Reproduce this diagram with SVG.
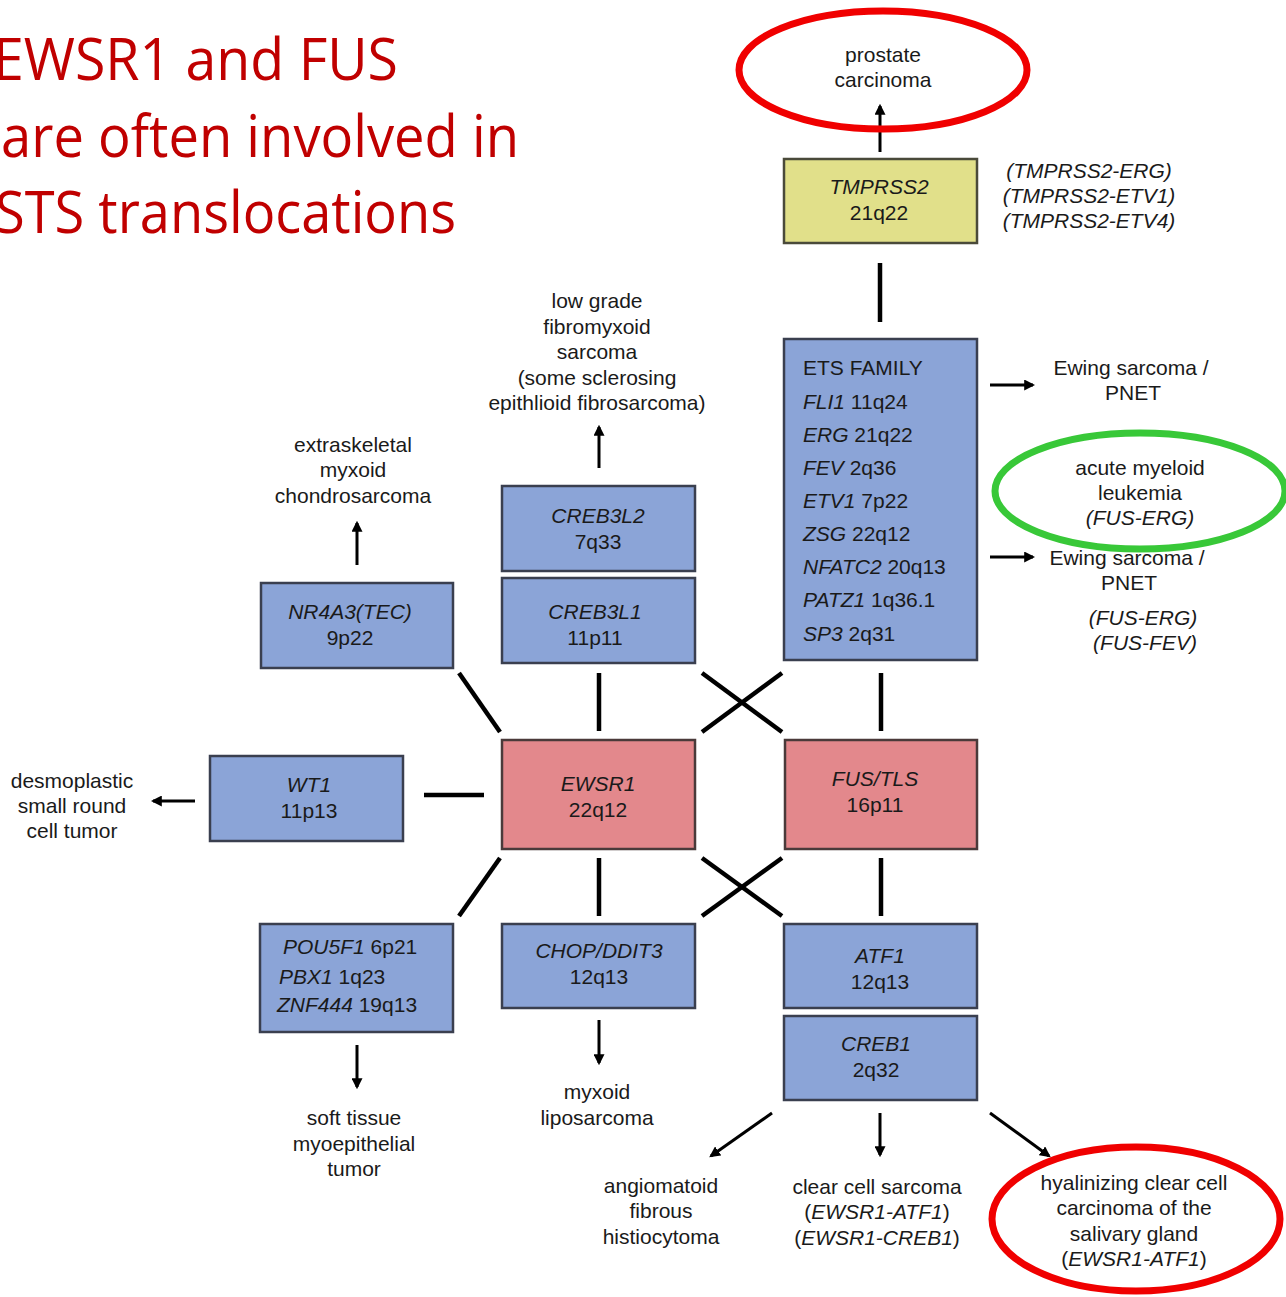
<svg xmlns="http://www.w3.org/2000/svg" width="1286" height="1297" viewBox="0 0 1286 1297">
<style>
.t{font-family:"Liberation Sans",Arial,sans-serif;font-size:21px;fill:#1a1a1a;text-anchor:middle}
.l{text-anchor:start}
.i{font-style:italic}
.title{font-family:"Open Sans","Liberation Sans",sans-serif;font-size:59px;fill:#c00000}
.box{fill:#8ba4d7;stroke:#3a3f4f;stroke-width:2.5}
.pink{fill:#e3888c;stroke:#4a3a3a;stroke-width:2.5}
.yel{fill:#e1e08a;stroke:#4a4a3a;stroke-width:2.5}
.ln{stroke:#000;stroke-width:4.5;fill:none}
.ar{stroke:#000;stroke-width:3;fill:none;marker-end:url(#ah)}
.red{fill:none;stroke:#f00000;stroke-width:7}
.grn{fill:none;stroke:#38c838;stroke-width:7}
</style>
<defs>
<marker id="ah" viewBox="0 0 10 10" refX="8" refY="5" markerWidth="11" markerHeight="11" markerUnits="userSpaceOnUse" orient="auto">
<path d="M0,0 L10,5 L0,10 z" fill="#000"/>
</marker>
</defs>
<rect width="1286" height="1297" fill="#fff"/>

<g id="title">
<text class="title" x="-7" y="80" textLength="405" lengthAdjust="spacingAndGlyphs">EWSR1 and FUS</text>
<text class="title" x="1" y="157" textLength="518" lengthAdjust="spacingAndGlyphs">are often involved in</text>
<text class="title" x="-5" y="233" textLength="461" lengthAdjust="spacingAndGlyphs">STS translocations</text>
</g>

<g id="connectors">
<line class="ar" x1="880" y1="152" x2="880" y2="106"/>
<line class="ln" x1="880" y1="263" x2="880" y2="322"/>
<line class="ar" x1="599" y1="468" x2="599" y2="427"/>
<line class="ar" x1="357" y1="565" x2="357" y2="523"/>
<line class="ar" x1="990" y1="385" x2="1033" y2="385"/>
<line class="ar" x1="990" y1="557" x2="1033" y2="557"/>
<line class="ar" x1="195" y1="801" x2="153" y2="801"/>
<line class="ln" x1="424" y1="795" x2="484" y2="795"/>
<line class="ln" x1="459" y1="673" x2="500" y2="732"/>
<line class="ln" x1="599" y1="673" x2="599" y2="731"/>
<line class="ln" x1="702" y1="732" x2="782" y2="673"/>
<line class="ln" x1="702" y1="673" x2="782" y2="732"/>
<line class="ln" x1="881" y1="673" x2="881" y2="731"/>
<line class="ln" x1="500" y1="858" x2="459" y2="916"/>
<line class="ln" x1="599" y1="858" x2="599" y2="916"/>
<line class="ln" x1="702" y1="858" x2="782" y2="916"/>
<line class="ln" x1="702" y1="916" x2="782" y2="858"/>
<line class="ln" x1="881" y1="858" x2="881" y2="916"/>
<line class="ar" x1="357" y1="1045" x2="357" y2="1087"/>
<line class="ar" x1="599" y1="1020" x2="599" y2="1063"/>
<line class="ar" x1="772" y1="1113" x2="711" y2="1156"/>
<line class="ar" x1="880" y1="1113" x2="880" y2="1155"/>
<line class="ar" x1="990" y1="1113" x2="1049" y2="1156"/>
</g>

<g id="tmprss2">
<rect class="yel" x="784" y="159" width="193" height="84"/>
<text class="t i" x="879" y="194">TMPRSS2</text>
<text class="t" x="879" y="220">21q22</text>
</g>
<g id="tmprss2-fusions">
<text class="t i" x="1089" y="178">(TMPRSS2-ERG)</text>
<text class="t i" x="1089" y="203">(TMPRSS2-ETV1)</text>
<text class="t i" x="1089" y="228">(TMPRSS2-ETV4)</text>
</g>
<g id="prostate">
<text class="t" x="883" y="62">prostate</text>
<text class="t" x="883" y="87">carcinoma</text>
<ellipse class="red" cx="883" cy="70" rx="144" ry="59"/>
</g>

<g id="ets">
<rect class="box" x="784" y="339" width="193" height="321"/>
<text class="t l" x="803" y="375">ETS FAMILY</text>
<text class="t l" x="803" y="409"><tspan class="i">FLI1</tspan> 11q24</text>
<text class="t l" x="803" y="442"><tspan class="i">ERG</tspan> 21q22</text>
<text class="t l" x="803" y="475"><tspan class="i">FEV</tspan> 2q36</text>
<text class="t l" x="803" y="508"><tspan class="i">ETV1</tspan> 7p22</text>
<text class="t l" x="803" y="541"><tspan class="i">ZSG</tspan> 22q12</text>
<text class="t l" x="803" y="574"><tspan class="i">NFATC2</tspan> 20q13</text>
<text class="t l" x="803" y="607"><tspan class="i">PATZ1</tspan> 1q36.1</text>
<text class="t l" x="803" y="641"><tspan class="i">SP3</tspan> 2q31</text>
</g>

<g id="ewing1">
<text class="t" x="1131" y="375">Ewing sarcoma /</text>
<text class="t" x="1133" y="400">PNET</text>
</g>
<g id="ewing2">
<text class="t" x="1127" y="565">Ewing sarcoma /</text>
<text class="t" x="1129" y="590">PNET</text>
<text class="t i" x="1143" y="625">(FUS-ERG)</text>
<text class="t i" x="1145" y="650">(FUS-FEV)</text>
</g>
<g id="aml">
<text class="t" x="1140" y="475">acute myeloid</text>
<text class="t" x="1140" y="500">leukemia</text>
<text class="t i" x="1140" y="525">(FUS-ERG)</text>
<ellipse class="grn" cx="1140" cy="491" rx="145" ry="58"/>
</g>

<g id="lgfms">
<text class="t" x="597" y="308">low grade</text>
<text class="t" x="597" y="334">fibromyxoid</text>
<text class="t" x="597" y="359">sarcoma</text>
<text class="t" x="597" y="385">(some sclerosing</text>
<text class="t" x="597" y="410">epithlioid fibrosarcoma)</text>
</g>
<g id="emc">
<text class="t" x="353" y="452">extraskeletal</text>
<text class="t" x="353" y="477">myxoid</text>
<text class="t" x="353" y="503">chondrosarcoma</text>
</g>

<g id="creb3l2">
<rect class="box" x="502" y="486" width="193" height="85"/>
<text class="t i" x="598" y="523">CREB3L2</text>
<text class="t" x="598" y="549">7q33</text>
</g>
<g id="creb3l1">
<rect class="box" x="502" y="578" width="193" height="85"/>
<text class="t i" x="595" y="619">CREB3L1</text>
<text class="t" x="595" y="645">11p11</text>
</g>
<g id="nr4a3">
<rect class="box" x="261" y="583" width="192" height="85"/>
<text class="t i" x="350" y="619">NR4A3(TEC)</text>
<text class="t" x="350" y="645">9p22</text>
</g>

<g id="dsrct">
<text class="t" x="72" y="788">desmoplastic</text>
<text class="t" x="72" y="813">small round</text>
<text class="t" x="72" y="838">cell tumor</text>
</g>
<g id="wt1">
<rect class="box" x="210" y="756" width="193" height="85"/>
<text class="t i" x="309" y="792">WT1</text>
<text class="t" x="309" y="818">11p13</text>
</g>
<g id="ewsr1">
<rect class="pink" x="502" y="740" width="193" height="109"/>
<text class="t i" x="598" y="791">EWSR1</text>
<text class="t" x="598" y="817">22q12</text>
</g>
<g id="fus">
<rect class="pink" x="785" y="740" width="192" height="109"/>
<text class="t i" x="875" y="786">FUS/TLS</text>
<text class="t" x="875" y="812">16p11</text>
</g>

<g id="pou5f1">
<rect class="box" x="260" y="924" width="193" height="108"/>
<text class="t l" x="283" y="954"><tspan class="i">POU5F1</tspan> 6p21</text>
<text class="t l" x="279" y="984"><tspan class="i">PBX1</tspan> 1q23</text>
<text class="t l" x="277" y="1012"><tspan class="i">ZNF444</tspan> 19q13</text>
</g>
<g id="chop">
<rect class="box" x="502" y="924" width="193" height="84"/>
<text class="t i" x="599" y="958">CHOP/DDIT3</text>
<text class="t" x="599" y="984">12q13</text>
</g>
<g id="atf1">
<rect class="box" x="784" y="924" width="193" height="84"/>
<text class="t i" x="880" y="963">ATF1</text>
<text class="t" x="880" y="989">12q13</text>
</g>
<g id="creb1">
<rect class="box" x="784" y="1016" width="193" height="84"/>
<text class="t i" x="876" y="1051">CREB1</text>
<text class="t" x="876" y="1077">2q32</text>
</g>

<g id="stmt">
<text class="t" x="354" y="1125">soft tissue</text>
<text class="t" x="354" y="1151">myoepithelial</text>
<text class="t" x="354" y="1176">tumor</text>
</g>
<g id="mlps">
<text class="t" x="597" y="1099">myxoid</text>
<text class="t" x="597" y="1125">liposarcoma</text>
</g>
<g id="afh">
<text class="t" x="661" y="1193">angiomatoid</text>
<text class="t" x="661" y="1218">fibrous</text>
<text class="t" x="661" y="1244">histiocytoma</text>
</g>
<g id="ccs">
<text class="t" x="877" y="1194">clear cell sarcoma</text>
<text class="t" x="877" y="1219">(<tspan class="i">EWSR1-ATF1</tspan>)</text>
<text class="t" x="877" y="1245">(<tspan class="i">EWSR1-CREB1</tspan>)</text>
</g>
<g id="hccc">
<text class="t" x="1134" y="1190">hyalinizing clear cell</text>
<text class="t" x="1134" y="1215">carcinoma of the</text>
<text class="t" x="1134" y="1241">salivary gland</text>
<text class="t" x="1134" y="1266">(<tspan class="i">EWSR1-ATF1</tspan>)</text>
<ellipse class="red" cx="1136" cy="1219" rx="144" ry="72"/>
</g>
</svg>
